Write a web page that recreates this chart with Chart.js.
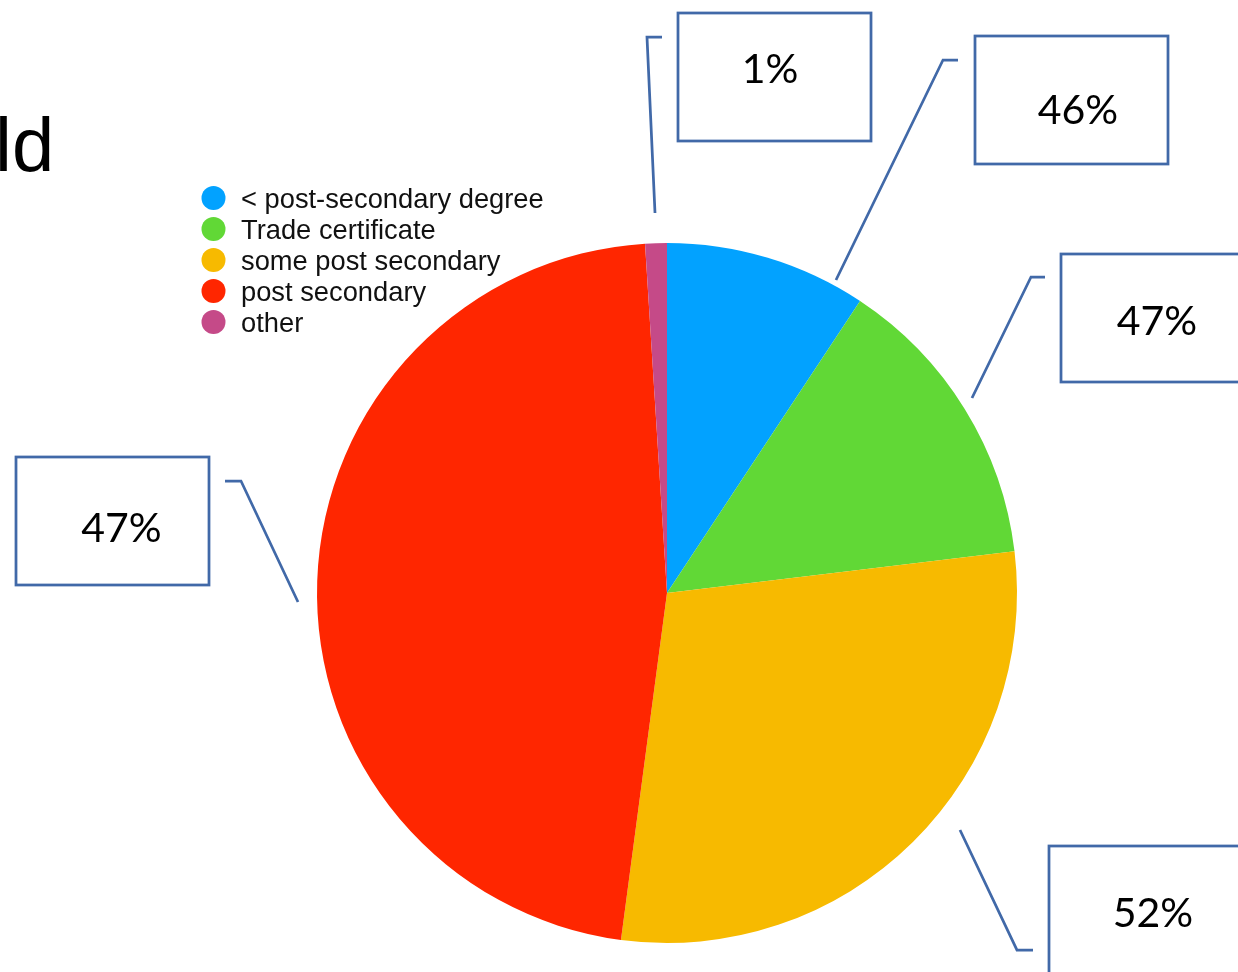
<!DOCTYPE html>
<html>
<head>
<meta charset="utf-8">
<title>Education pie</title>
<script src="https://cdn.jsdelivr.net/npm/chart.js"></script>
<style>
  html, body { margin: 0; padding: 0; background: #fff; overflow: hidden; }
  #wrap { width: 1238px; height: 972px; }
</style>
</head>
<body>
<div id="wrap"><canvas id="myChart" width="1238" height="972"></canvas></div>
<script>
// data
const categories = ['< post-secondary degree', 'Trade certificate', 'some post secondary', 'post secondary', 'other'];
const shares = [9.3, 13.8, 29.0, 46.9, 1.0];
const calloutLabels = ['46%', '47%', '52%', '47%', '1%'];
const titleFragment = 'ld';

const sliceColors = ['#02A2FF', '#61D836', '#F7BA00', '#FF2600', '#C54A88'];
const boxColor = '#4169A8';

// callout geometry, in px relative to the pie centre
const calloutLayout = [
  { tip: [169, -313], elbow: [276, -533], end: [291, -533], box: [308, -557], text: [411, -469] },
  { tip: [305, -195], elbow: [364, -316], end: [378, -316], box: [394, -339], text: [490, -258] },
  { tip: [293, 237], elbow: [350, 357], end: [366, 357], box: [382, 253], text: [486, 334] },
  { tip: [-369, 9], elbow: [-426, -112], end: [-442, -112], box: [-651, -136], text: [-545.5, -51] },
  { tip: [-12, -380], elbow: [-20, -556], end: [-5, -556], box: [11, -580], text: [103, -510] }
];

const overlay = {
  id: 'overlay',
  afterDraw(chart) {
    const ctx = chart.ctx;
    const arc = chart.getDatasetMeta(0).data[0];
    const cx = arc.x, cy = arc.y;
    ctx.save();

    // cut-off title
    ctx.fillStyle = '#000';
    ctx.font = '76px "Liberation Sans", Arial, sans-serif';
    ctx.textAlign = 'left';
    ctx.textBaseline = 'alphabetic';
    ctx.fillText(titleFragment, -5, 171);

    // legend
    const ds = chart.data.datasets[0];
    ctx.font = '27.3px "Liberation Sans", Arial, sans-serif';
    chart.data.labels.forEach((lab, i) => {
      const y = 198 + i * 31;
      ctx.fillStyle = ds.backgroundColor[i];
      ctx.beginPath();
      ctx.arc(213.5, y, 12, 0, Math.PI * 2);
      ctx.fill();
      ctx.fillStyle = '#111';
      ctx.fillText(lab, 241, y + 9.5);
    });

    // callout boxes
    ctx.strokeStyle = boxColor;
    ctx.lineWidth = 2.75;
    ctx.font = '41px Lato, "Open Sans", sans-serif';
    ctx.textAlign = 'center';
    calloutLabels.forEach((txt, i) => {
      const c = calloutLayout[i];
      ctx.beginPath();
      ctx.moveTo(cx + c.tip[0], cy + c.tip[1]);
      ctx.lineTo(cx + c.elbow[0], cy + c.elbow[1]);
      ctx.lineTo(cx + c.end[0], cy + c.end[1]);
      ctx.stroke();
      ctx.strokeRect(cx + c.box[0], cy + c.box[1], 193, 128);
      ctx.fillStyle = '#000';
      ctx.fillText(txt, cx + c.text[0], cy + c.text[1]);
    });
    ctx.restore();
  }
};

const chart = new Chart(document.getElementById('myChart'), {
  type: 'pie',
  data: {
    labels: categories,
    datasets: [{
      data: shares,
      backgroundColor: sliceColors,
      borderWidth: 0
    }]
  },
  options: {
    responsive: false,
    animation: false,
    layout: { padding: { top: 243, bottom: 29, left: 317, right: 221 } },
    plugins: {
      legend: { display: false },
      tooltip: { enabled: false }
    }
  },
  plugins: [overlay]
});
</script>
</body>
</html>
